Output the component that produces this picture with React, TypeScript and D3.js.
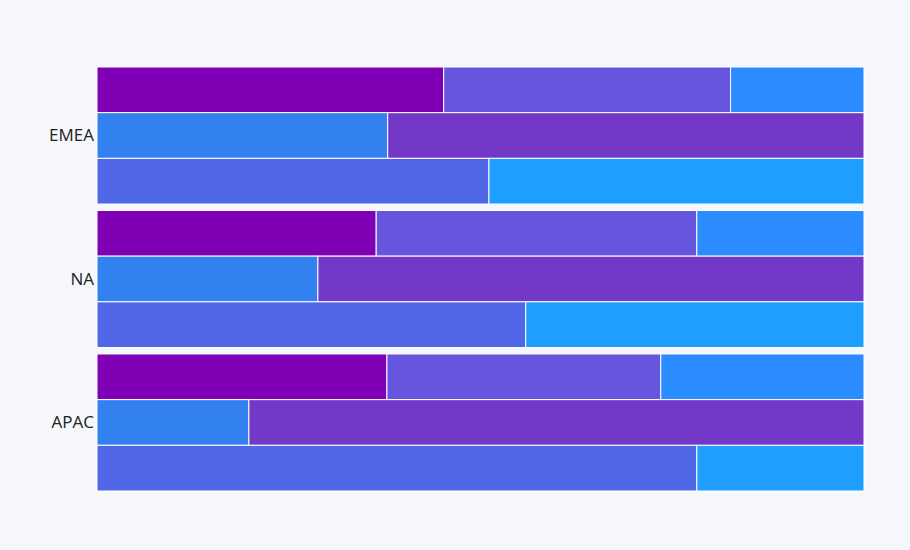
import React from 'react';
import * as d3 from 'd3';

const regions = ['EMEA', 'NA', 'APAC'];
// row 1: three segments, rows 2 and 3: two segments (share of the row, %)
const row1 = [
  [45.2, 37.4, 17.4],
  [36.4, 41.8, 21.8],
  [37.8, 35.7, 26.5],
];
const row2 = [
  [37.9, 62.1],
  [28.8, 71.2],
  [19.8, 80.2],
];
const row3 = [
  [51.1, 48.9],
  [55.9, 44.1],
  [78.2, 21.8],
];
const row1Colors = ['#7f00b5', '#6655df', '#2a8cff'];
const row2Colors = ['#3380f0', '#7438c8'];
const row3Colors = ['#5068e8', '#1e9fff'];

const width = 910;
const height = 550;
const margin = { top: 67, right: 46, bottom: 59, left: 97 };

export default function App() {
  const innerW = width - margin.left - margin.right;
  const innerH = height - margin.top - margin.bottom;

  const y = d3.scaleBand<string>().domain(regions).range([0, innerH]).paddingInner(0.045);
  const sub = d3.scaleBand<number>().domain([0, 1, 2]).range([0, y.bandwidth()]);
  const x = d3.scaleLinear().domain([0, 100]).range([0, innerW]);

  const rows = [
    { data: row1, colors: row1Colors },
    { data: row2, colors: row2Colors },
    { data: row3, colors: row3Colors },
  ];

  return (
    <svg
      width={width}
      height={height}
      style={{ position: 'absolute', left: 0, top: 0, display: 'block' }}
    >
      <rect width={width} height={height} fill="#f5f7fb" />
      <g transform={`translate(${margin.left},${margin.top})`}>
        {regions.map((r, ri) => (
          <g key={r} transform={`translate(0,${y(r)})`}>
            {rows.map((row, k) => {
              const vals = row.data[ri];
              let acc = 0;
              return vals.map((v, si) => {
                const x0 = acc;
                acc += v;
                return (
                  <rect
                    key={`${k}-${si}`}
                    x={x(x0)}
                    y={sub(k)}
                    width={x(acc) - x(x0)}
                    height={sub.bandwidth()}
                    fill={row.colors[si]}
                    stroke="#ffffff"
                    strokeWidth={1}
                  />
                );
              });
            })}
            <text
              x={-3}
              y={y.bandwidth() / 2}
              dy="0.35em"
              textAnchor="end"
              fontFamily="'Open Sans', sans-serif"
              fontSize={17}
              fill="#222"
            >
              {r}
            </text>
          </g>
        ))}
      </g>
    </svg>
  );
}
